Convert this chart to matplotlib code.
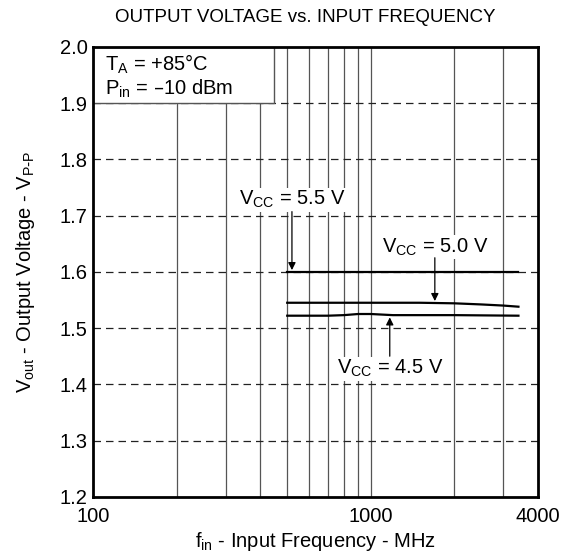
import numpy as np
import matplotlib
matplotlib.use('Agg')
import matplotlib.pyplot as plt
from matplotlib.patches import Rectangle

plt.rcParams['font.family'] = ['Liberation Sans', 'DejaVu Sans']
plt.rcParams.update({'mathtext.default': 'regular'})

# curves (MHz, Vp-p)
freq_55 = [500, 1000, 2000, 3400]
vout_55 = [1.600, 1.600, 1.600, 1.600]

freq_50 = [500, 700, 1000, 1500, 2000, 2500, 3000, 3400]
vout_50 = [1.545, 1.545, 1.545, 1.545, 1.544, 1.542, 1.540, 1.538]

freq_45 = [500, 700, 800, 900, 1000, 1200, 2000, 3400]
vout_45 = [1.522, 1.522, 1.523, 1.525, 1.525, 1.523, 1.523, 1.522]

x_ticks = [100, 1000, 4000]
y_ticks = [1.2, 1.3, 1.4, 1.5, 1.6, 1.7, 1.8, 1.9, 2.0]
v_grid = [200, 300, 400, 500, 600, 700, 800, 900, 1000, 2000, 3000]
h_grid = [1.3, 1.4, 1.5, 1.6, 1.7, 1.8, 1.9]

fs = 14.5

fig = plt.figure(figsize=(5.64, 5.57), dpi=100)
ax = fig.add_axes([0.165, 0.108, 0.789, 0.808])
ax.set_xscale('log')
ax.set_xlim(100, 4000)
ax.set_ylim(1.2, 2.0)

for f in v_grid:
    ax.axvline(f, color='#555555', lw=0.9, zorder=1)
for v in h_grid:
    ax.axhline(v, color='#222222', lw=0.9, ls=(0, (6, 4)), zorder=1)

ax.plot(freq_55, vout_55, color='black', lw=1.6, zorder=3)
ax.plot(freq_50, vout_50, color='black', lw=1.6, zorder=3)
ax.plot(freq_45, vout_45, color='black', lw=1.6, zorder=3)

# condition box in the top-left corner
ax.add_patch(Rectangle((100, 1.9), 450 - 100, 0.1, facecolor='white',
                       edgecolor='#555555', lw=1.0, zorder=4))
ax.text(110, 1.969, 'T$_{A}$ = +85°C', fontsize=fs, va='center', zorder=5)
ax.text(110, 1.925, 'P$_{in}$ = \u201310 dBm', fontsize=fs, va='center', zorder=5)

arrow = dict(arrowstyle='-|>', color='black', lw=0.9, mutation_scale=11,
             shrinkA=0, shrinkB=0)
bbox = dict(facecolor='white', edgecolor='none', pad=1.0)

ax.text(520, 1.728, 'V$_{CC}$ = 5.5 V', fontsize=fs, ha='center', va='center',
        bbox=bbox, zorder=5)
ax.annotate('', xy=(520, 1.603), xytext=(520, 1.707), arrowprops=arrow, zorder=5)

ax.text(1700, 1.644, 'V$_{CC}$ = 5.0 V', fontsize=fs, ha='center', va='center',
        bbox=bbox, zorder=5)
ax.annotate('', xy=(1700, 1.548), xytext=(1700, 1.625), arrowprops=arrow, zorder=5)

ax.text(1170, 1.428, 'V$_{CC}$ = 4.5 V', fontsize=fs, ha='center', va='center',
        bbox=bbox, zorder=5)
ax.annotate('', xy=(1170, 1.519), xytext=(1170, 1.450), arrowprops=arrow, zorder=5)

ax.set_xticks(x_ticks)
ax.set_xticklabels([str(t) for t in x_ticks])
ax.xaxis.set_minor_locator(matplotlib.ticker.NullLocator())
ax.set_yticks(y_ticks)
ax.set_yticklabels(['%.1f' % t for t in y_ticks])
ax.tick_params(length=0, labelsize=fs)
ax.tick_params(axis='x', pad=7)
ax.tick_params(axis='y', pad=4)
for s in ax.spines.values():
    s.set_linewidth(2)
    s.set_zorder(6)

ax.set_xlabel('f$_{in}$ - Input Frequency - MHz', fontsize=fs, labelpad=3)
ax.set_ylabel(r'V$_{out}$ - Output Voltage - V$_{P\text{-}P}$', fontsize=fs, labelpad=16)
fig.text(305 / 564, 1 - 18 / 557, 'OUTPUT VOLTAGE vs. INPUT FREQUENCY',
         fontsize=13.5, ha='center', va='center')

fig.savefig('out.png', dpi=100)
